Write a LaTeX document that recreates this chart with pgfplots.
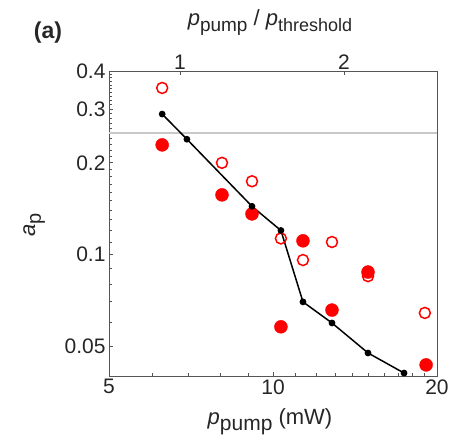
\documentclass[border=0pt]{standalone}
\usepackage{pgfplots}
\pgfplotsset{compat=1.18}
\usepackage{fontspec}
\setmainfont{Liberation Sans}

\definecolor{axgray}{RGB}{85,85,85}
\definecolor{txt}{RGB}{38,38,38}
\definecolor{thr}{RGB}{200,200,200}
\newcommand{\sub}[2]{\raisebox{-0.5ex}{\fontsize{#1}{#1}\selectfont #2}}

\begin{document}
\begin{tikzpicture}
\useasboundingbox (0,0) rectangle (451pt,442pt);
% main axis: p_pump (mW) vs a_p
\begin{axis}[
    at={(109pt,66pt)}, anchor=south west,
    scale only axis, width=328pt, height=305pt,
    xmode=log, ymode=log,
    xmin=5, xmax=20, ymin=0.04, ymax=0.4,
    xtick={5,10,20}, xticklabels={5,10,20},
    minor xtick={6,7,8,9,11,12,13,14,15,16,17,18,19},
    ytick={0.05,0.1,0.2,0.3,0.4}, yticklabels={0.05,0.1,0.2,0.3,0.4},
    minor ytick={0.04,0.06,0.07,0.08,0.09,0.11,0.12,0.13,0.14,0.15,0.16,0.17,0.18,0.19,
                 0.21,0.22,0.23,0.24,0.25,0.26,0.27,0.28,0.29,0.31,0.32,0.33,0.34,0.35,0.36,0.37,0.38,0.39},
    tick pos=left, tick align=inside,
    major tick length=4.5pt, minor tick length=3pt,
    axis line style={axgray, line width=0.9pt},
    every tick/.style={axgray, line width=0.9pt},
    ticklabel style={font=\fontsize{21}{21}\selectfont, text=txt},
    /pgf/number format/assume math mode=true,
    clip=false,
]
\addplot[thr, line width=2pt] coordinates {(5,0.25) (20,0.25)};
% open circles
\addplot[only marks, mark=o, mark size=5.5pt, red, line width=1.5pt] coordinates {
    (6.26,0.352) (8.06,0.200) (9.15,0.174) (10.34,0.113)
    (11.35,0.096) (12.83,0.110) (14.94,0.085) (19.0,0.0644)
};
% filled circles
\addplot[only marks, mark=*, mark size=6.5pt, red, fill=red] coordinates {
    (6.26,0.229) (8.06,0.157) (9.15,0.136) (10.34,0.058)
    (11.35,0.111) (12.83,0.0658) (14.94,0.0877) (19.1,0.0435)
};
% model
\addplot[black, line width=1.5pt, mark=*, mark size=2.6pt] coordinates {
    (6.26,0.289) (6.95,0.239) (9.15,0.144) (10.34,0.120)
    (11.35,0.070) (12.83,0.0597) (14.94,0.0476) (17.40,0.0409)
};
\end{axis}
% top axis: p_pump / p_threshold
\begin{axis}[
    at={(109pt,66pt)}, anchor=south west,
    scale only axis, width=328pt, height=305pt,
    xmode=log, xmin=0.74074, xmax=2.96296, ymin=0, ymax=1,
    axis x line*=top, axis y line=none,
    xtick={1,2}, xticklabels={1,2}, minor xtick={},
    tick align=inside, major tick length=4.5pt,
    axis line style={axgray, line width=0.9pt},
    every tick/.style={axgray, line width=0.9pt},
    xticklabel style={font=\fontsize{21}{21}\selectfont, text=txt, inner sep=1pt},
    /pgf/number format/assume math mode=true,
]
\addplot[draw=none] coordinates {(1,0.5)};
\end{axis}
\node[anchor=base, text=txt] at (48pt,403pt) {\fontsize{23}{23}\selectfont\bfseries (a)};
\node[anchor=base, text=txt] at (270pt,416pt)
    {\fontsize{22}{22}\selectfont\textit{p}\sub{19}{pump} / \textit{p}\sub{18}{threshold}};
\node[anchor=base, text=txt] at (270pt,17pt)
    {\fontsize{22}{22}\selectfont\textit{p}\sub{21}{pump} (mW)};
\node[anchor=base, rotate=90, text=txt] at (35pt,217pt)
    {\fontsize{22}{22}\selectfont\textit{a}\sub{20}{p}};
\end{tikzpicture}
\end{document}
